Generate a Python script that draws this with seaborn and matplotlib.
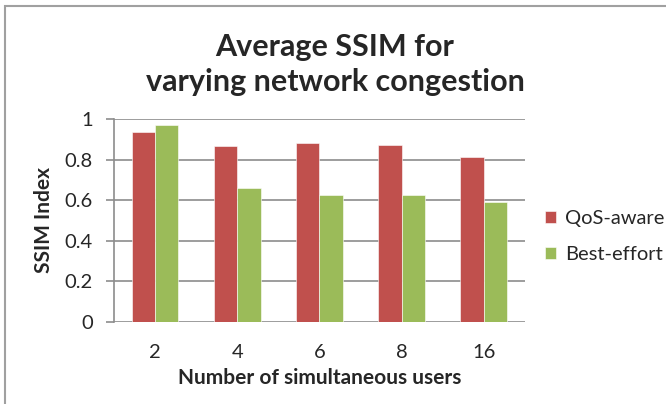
import pandas as pd
import matplotlib.pyplot as plt
import seaborn as sns
from matplotlib.patches import Rectangle

users = ["2", "4", "6", "8", "16"]
qos_aware = [0.934, 0.865, 0.880, 0.873, 0.811]
best_effort = [0.970, 0.658, 0.624, 0.624, 0.591]
series = ["QoS-aware", "Best-effort"]
colors = ["#C0504D", "#9BBB59"]

data = pd.DataFrame({
    "users": users * 2,
    "ssim": qos_aware + best_effort,
    "series": [series[0]] * len(users) + [series[1]] * len(users),
})

sns.set_style("white")
plt.rcParams['font.family'] = ['Lato', 'DejaVu Sans']

fig = plt.figure(figsize=(6.66, 4.04), dpi=100)
ax = fig.add_axes([0.171, 0.203, 0.617, 0.5025])

sns.barplot(data=data, x="users", y="ssim", hue="series", order=users,
            hue_order=series, palette=colors, width=0.57, saturation=1,
            edgecolor="white", linewidth=0.4, ax=ax)

ax.set_ylim(0, 1)
ax.set_xlim(-0.5, len(users) - 0.5)
ax.set_yticks([0, 0.2, 0.4, 0.6, 0.8, 1])
ax.set_yticklabels(["0", "0.2", "0.4", "0.6", "0.8", "1"])
ax.yaxis.grid(True, color="#8c8c8c", linewidth=1.2)
ax.set_axisbelow(True)
for side in ["top", "right", "bottom"]:
    ax.spines[side].set_visible(False)
ax.spines["left"].set_color("#8c8c8c")
ax.spines["left"].set_linewidth(1.2)
ax.tick_params(axis="y", direction="out", length=6, width=1.2, color="#8c8c8c",
               left=True, pad=9, labelsize=14.5)
ax.tick_params(axis="x", length=0, pad=16, labelsize=14.5)

ax.set_xlabel("Number of simultaneous users", fontsize=15, fontweight="bold", labelpad=5)
ax.set_ylabel("SSIM Index", fontsize=15, fontweight="bold", labelpad=8)

fig.suptitle("Average SSIM for\nvarying network congestion", x=0.503, y=0.84,
             va="center", fontsize=22, fontweight="bold", linespacing=1.28)

leg = ax.legend(loc="center left", bbox_to_anchor=(1.005, 0.42), frameon=False,
                fontsize=14.5, handlelength=0.55, handleheight=0.55,
                labelspacing=0.95, handletextpad=0.45)

fig.patches.append(Rectangle((4.5 / 666, -0.1), 1.2, 1 - 6 / 404 + 0.1,
                             transform=fig.transFigure, fill=False,
                             edgecolor="#a0a0a0", linewidth=1.5))

fig.savefig("out.png", dpi=100)
